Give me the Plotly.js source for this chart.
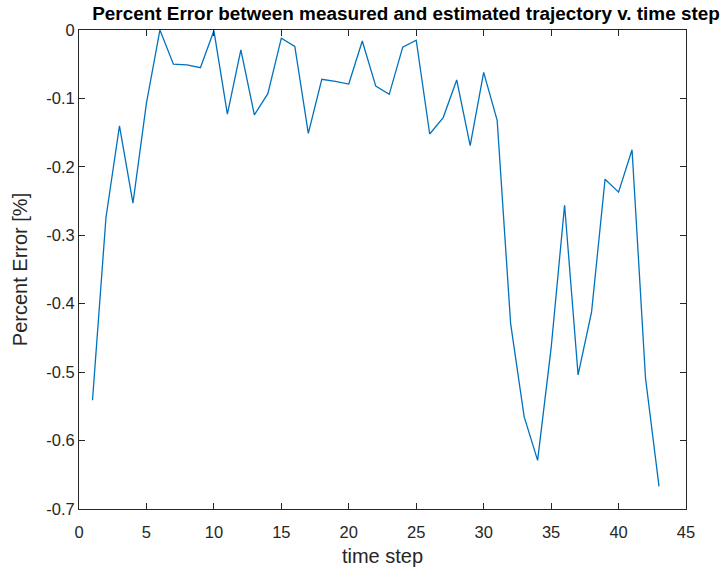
<!DOCTYPE html>
<html>
<head>
<meta charset="utf-8">
<script src="https://cdn.plot.ly/plotly-3.0.1.min.js"></script>
<style>html,body{margin:0;padding:0;background:#fff;}#chart{width:726px;height:574px;}</style>
</head>
<body>
<div id="chart"></div>
<script>
const timeStep = [1,2,3,4,5,6,7,8,9,10,11,12,13,14,15,16,17,18,19,20,21,22,23,24,25,26,27,28,29,30,31,32,33,34,35,36,37,38,39,40,41,42,43];
const percentError = [-0.541,-0.274,-0.140,-0.253,-0.107,0.000,-0.050,-0.051,-0.055,-0.001,-0.123,-0.029,-0.124,-0.093,-0.012,-0.024,-0.151,-0.072,-0.075,-0.079,-0.016,-0.082,-0.094,-0.025,-0.015,-0.152,-0.128,-0.073,-0.169,-0.062,-0.132,-0.429,-0.565,-0.629,-0.465,-0.256,-0.504,-0.412,-0.218,-0.237,-0.175,-0.509,-0.667];
const xTicks = [0,5,10,15,20,25,30,35,40,45];
const yTicks = [0,-0.1,-0.2,-0.3,-0.4,-0.5,-0.6,-0.7];
const yTickText = ['0','-0.1','-0.2','-0.3','-0.4','-0.5','-0.6','-0.7'];

const FONT = 'Liberation Sans, Arial, sans-serif';
const axisCommon = {
  showgrid:false, zeroline:false, showline:true, mirror:'ticks',
  linecolor:'#262626', linewidth:1, ticks:'inside', ticklen:6, tickcolor:'#262626',
  tickfont:{family:FONT, size:16.5, color:'#262626'}
};

Plotly.newPlot('chart', [{
  x: timeStep, y: percentError, type:'scatter', mode:'lines',
  line:{color:'#0072BD', width:1.3}
}], {
  width:726, height:574,
  margin:{l:79, r:40, t:30, b:65},
  paper_bgcolor:'#fff', plot_bgcolor:'#fff',
  showlegend:false,
  title:{text:'<b>Percent Error between measured and estimated trajectory v. time step</b>',
    font:{family:FONT, size:18.9, color:'#000'},
    x:406/726, xanchor:'center', xref:'container', y:1-13/574, yanchor:'middle', yref:'container'},
  xaxis: Object.assign({}, axisCommon, {
    range:[0,45], tickvals:xTicks, ticktext:xTicks.map(String), ticklabelstandoff:8,
    title:{text:'time step', font:{family:FONT, size:20, color:'#262626'}, standoff:9}
  }),
  yaxis: Object.assign({}, axisCommon, {
    range:[-0.7,0], tickvals:yTicks, ticktext:yTickText,
    title:{text:'Percent Error [%]', font:{family:FONT, size:20, color:'#262626'}, standoff:13}
  })
}, {staticPlot:true});
</script>
</body>
</html>
